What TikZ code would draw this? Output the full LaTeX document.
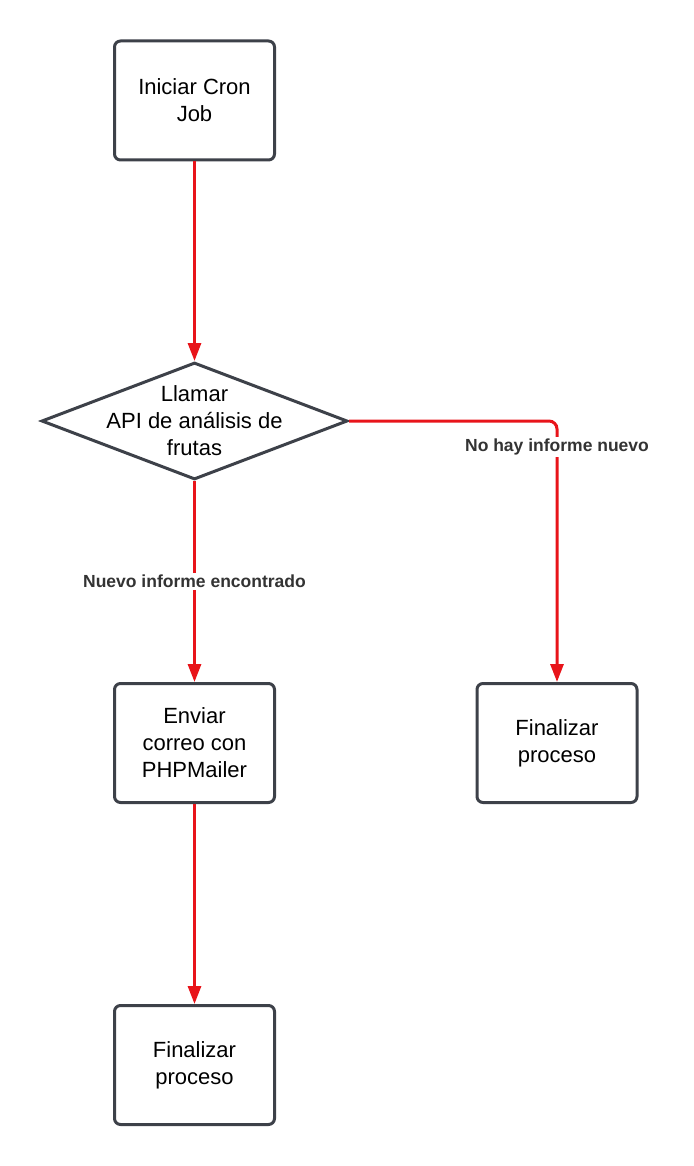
\documentclass[tikz,border=0pt]{standalone}
\usepackage{fontspec}
\setmainfont{Liberation Sans}
\usetikzlibrary{shapes.geometric,arrows.meta}
\definecolor{boxline}{HTML}{3D4149}
\definecolor{arr}{HTML}{E8141A}
\definecolor{lbl}{HTML}{333333}
\begin{document}
\begin{tikzpicture}[x=1pt,y=-1pt,
  txt/.style={align=center,font=\fontsize{22}{27}\selectfont,inner sep=0pt},
  procbox/.style={txt,draw=boxline,line width=3pt,rounded corners=6pt,minimum width=160pt,minimum height=119pt},
  decbox/.style={draw=boxline,line width=3pt,diamond,aspect=2.6,minimum width=306pt,minimum height=117pt,inner sep=0pt},
  flow/.style={draw=arr,line width=3pt,-{Triangle[length=18pt,width=13pt]}},
  edgelbl/.style={fill=white,font=\bfseries\fontsize{17.5}{20}\selectfont,text=lbl,inner sep=2pt}]
\useasboundingbox (0,0) rectangle (693,1166);
\node[procbox] (start) at (194.5,100.5) {Iniciar Cron\\Job};
\node[decbox] (api) at (194.5,421) {};
\node[txt] (apitext) at (api.center) {Llamar\\API de análisis de\\frutas};
\node[procbox] (mail) at (194.5,743) {Enviar\\correo con\\PHPMailer};
\node[procbox] (endr) at (557,743) {Finalizar\\proceso};
\node[procbox] (endl) at (194.5,1065) {Finalizar\\proceso};
\coordinate (corner) at (557,421);
\draw[flow] (start) -- (api);
\draw[flow] (api) -- node[edgelbl,pos=0.5] {Nuevo informe encontrado} (mail);
\draw[flow,rounded corners=8pt] (api.east) -- (corner) -- (endr);
\node[edgelbl] (lblr) at (557,447) {No hay informe nuevo};
\draw[flow] (mail) -- (endl);
\end{tikzpicture}
\end{document}
